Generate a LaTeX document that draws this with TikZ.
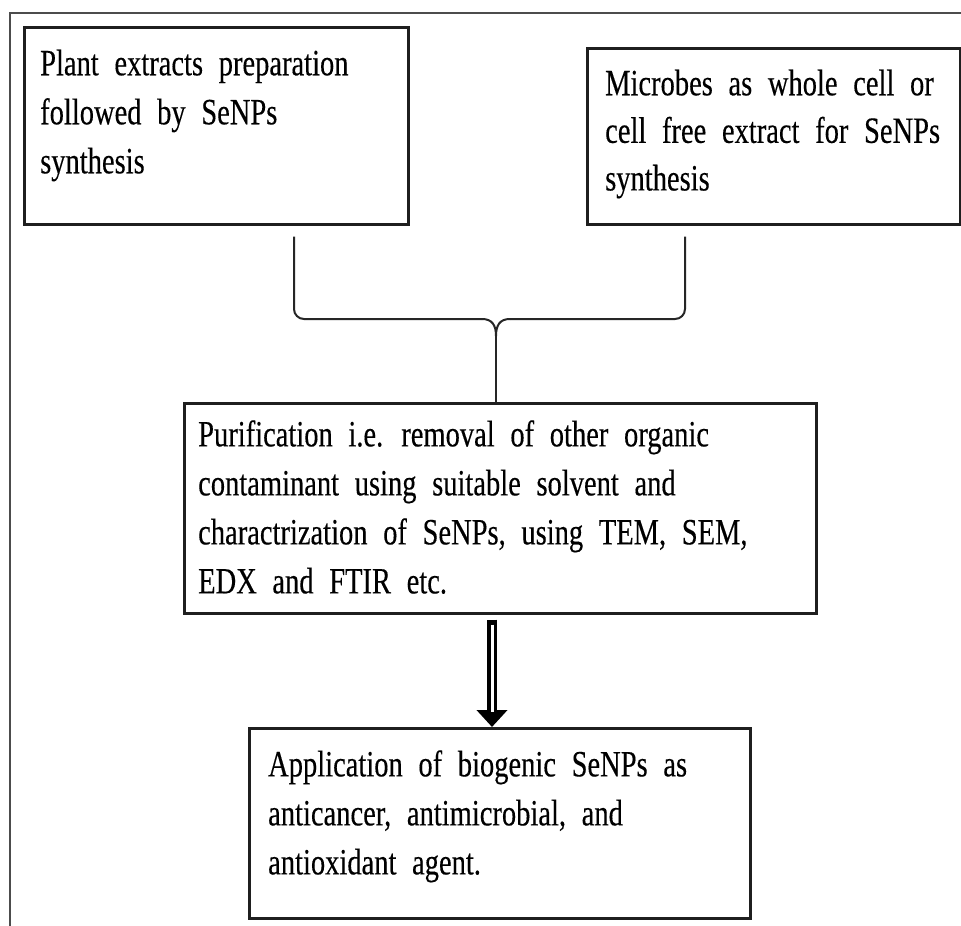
\documentclass[tikz,border=0pt]{standalone}
\usepackage{fontspec}
\setmainfont[WordSpace=2.2,FakeBold=0.35]{Liberation Serif}
\usetikzlibrary{arrows.meta,calc}
\begin{document}
\begin{tikzpicture}[x=1pt,y=-1pt,
  frameline/.style={draw=black!70,line width=1.2pt},
  boxstyle/.style={draw=black!88,line width=2.6pt,inner sep=0pt},
  txt/.style={anchor=north west,inner sep=0pt,align=left,yscale=1.3,font=\fontsize{28.5}{37.7}\selectfont},
  txtb/.style={txt,font=\fontsize{28.5}{36.6}\selectfont},
  brace/.style={draw=black!85,line width=2pt,rounded corners=10pt},
]
\useasboundingbox (0,0) rectangle (961,926);
\fill[white] (0,0) rectangle (961,926);
% outer frame lines
\coordinate (f0) at (10,13);
\coordinate (f1) at (961,13);
\coordinate (f2) at (10,926);
\draw[frameline] (f1) -- (f0) -- (f2);
% boxes
\node[boxstyle,minimum width=384pt,minimum height=197pt,anchor=north west] (b1) at (23,26) {};
\node[boxstyle,minimum width=373pt,minimum height=176pt,anchor=north west] (b2) at (586,47) {};
\node[boxstyle,minimum width=632pt,minimum height=210pt,anchor=north west] (b3) at (183,402) {};
\node[boxstyle,minimum width=501pt,minimum height=190pt,anchor=north west] (b4) at (248,727) {};
% texts
\node[txt] (t1) at (40,49) {\rule{0pt}{20pt}Plant extracts preparation\\followed by SeNPs\\synthesis};
\node[txtb] (t2) at (605,69) {\rule{0pt}{20pt}Microbes as whole cell or\\cell free extract for SeNPs\\synthesis};
\node[txt] (t3) at (198,420) {\rule{0pt}{20pt}Purification i.e. removal of other organic\\contaminant using suitable solvent and\\charactrization of SeNPs, using TEM, SEM,\\EDX and FTIR etc.};
\node[txt] (t4) at (268,750) {\rule{0pt}{20pt}Application of biogenic SeNPs as\\anticancer, antimicrobial, and\\antioxidant agent.};
% brace connector
\coordinate (lx) at (294,0);
\coordinate (rx) at (685,0);
\coordinate (cx) at (496,0);
\coordinate (hy) at (0,319);
\coordinate (tipy) at (0,336);
\draw[brace] ($(b1.south -| lx)+(0,11)$) -- (hy -| lx) -- ($(hy -| cx)+(-14,0)$);
\draw[brace] ($(b2.south -| rx)+(0,11)$) -- (hy -| rx) -- ($(hy -| cx)+(14,0)$);
\draw[draw=black!85,line width=2pt] ($(hy -| cx)+(-14,0)$) .. controls ($(hy -| cx)+(-4,0)$) and ($(hy -| cx)+(0,6)$) .. (tipy -| cx)
  .. controls ($(hy -| cx)+(0,6)$) and ($(hy -| cx)+(4,0)$) .. ($(hy -| cx)+(14,0)$);
\draw[draw=black!85,line width=2pt] (tipy -| cx) -- (b3.north -| cx);
% hollow down arrow
\coordinate (ax) at (492,0);
\draw[black,line width=10pt,-{Triangle[width=30pt,length=17pt]}] ($(b3.south -| ax)+(0,5)$) -- (b4.north -| ax);
\draw[white,line width=3pt] ($(b3.south -| ax)+(0,10)$) -- ($(b4.north -| ax)+(0,-15)$);
\end{tikzpicture}
\end{document}
